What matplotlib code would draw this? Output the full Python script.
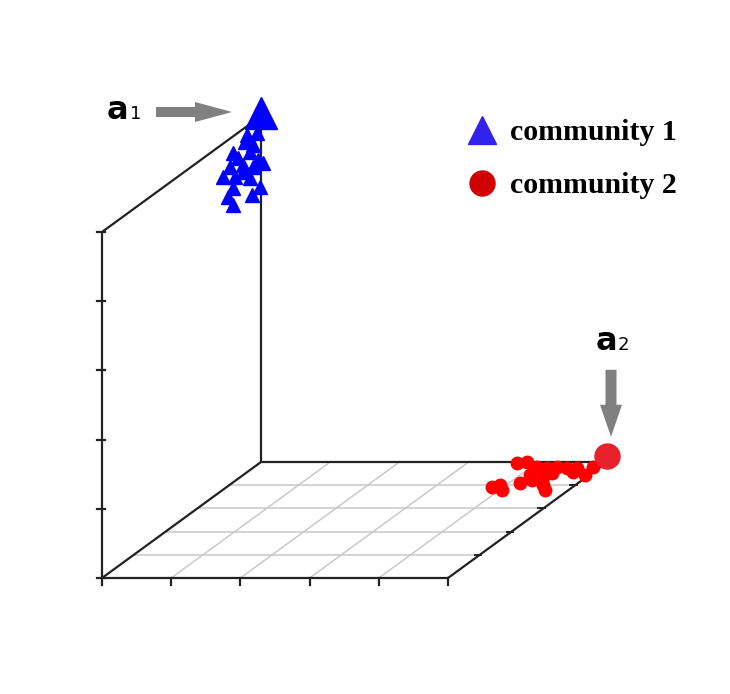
import matplotlib
matplotlib.use("Agg")
import matplotlib.pyplot as plt
from matplotlib.lines import Line2D
from matplotlib.patches import FancyArrow
import numpy as np

# ---------------- data ----------------
# community 1 (blue triangles): x, depth (y), height (z)
comm1_x = [0.00, 0.00, 0.00, 0.00, 0.00, 0.00, 0.00, 0.00, 0.00, 0.00, 0.00,
           0.00, 0.00, 0.00, 0.00, 0.00, 0.00, 0.00, 0.00, 0.00, 0.03]
comm1_y = [4.87, 4.56, 4.50, 4.75, 4.12, 4.65, 4.91, 4.28, 4.03, 4.43, 4.75,
           3.81, 4.18, 4.65, 4.97, 4.12, 4.72, 3.96, 4.12, 4.43, 5.00]
comm1_z = [4.80, 4.87, 4.79, 4.66, 4.76, 4.60, 4.40, 4.64, 4.59, 4.48, 4.35,
           4.52, 4.39, 4.22, 3.98, 4.25, 3.95, 4.18, 4.01, 4.38, 4.32]
# community 2 (red dots)
comm2_x = [3.72, 3.84, 4.09, 4.25, 4.38, 4.54, 4.69, 4.94, 4.90, 4.14,
           4.37, 4.16, 4.53, 4.66, 3.83, 3.91, 4.04, 4.27, 4.42, 4.71]
comm2_y = [4.96, 5.00, 4.78, 4.74, 4.78, 4.74, 4.74, 4.44, 4.78, 4.44,
           4.35, 4.09, 4.01, 3.79, 3.92, 4.01, 3.79, 4.22, 4.53, 4.57]
comm2_z = [0.00] * 20
# anchor points
a1_xyz = (0.0, 5.0, 5.0)
a2_xyz = (5.0, 5.0, 0.09)
x_ticks = [0, 1, 2, 3, 4, 5]
y_ticks = [0, 1, 2, 3, 4, 5]
z_ticks = [0, 1, 2, 3, 4, 5]
legend_labels = ["community 1", "community 2"]
anchor_labels = ["a", "1", "a", "2"]

# ---------------- oblique projection ----------------
DX = 31.8 / 69.2
DZ = 23.2 / 69.2


def proj(x, y, z):
    x = np.asarray(x, float); y = np.asarray(y, float); z = np.asarray(z, float)
    return x + DX * y, z + DZ * y


W, H = 730, 694
fig = plt.figure(figsize=(W / 100, H / 100), dpi=100)
ax = fig.add_axes([0, 0, 1, 1])
U = 69.2  # pixels per unit
ax.set_xlim(-102 / U, (W - 102) / U)
ax.set_ylim((578 - H) / U, 578 / U)
ax.axis("off")

X0, X1 = x_ticks[0], x_ticks[-1]
Y0, Y1 = y_ticks[0], y_ticks[-1]
Z0, Z1 = z_ticks[0], z_ticks[-1]


def seg(p, q, **kw):
    a = proj(*p); b = proj(*q)
    ax.plot([a[0], b[0]], [a[1], b[1]], solid_capstyle="butt", **kw)


grid_kw = dict(color="#c9c9c9", lw=1.1, zorder=1)
for yv in y_ticks[1:-1]:
    seg((X0, yv, Z0), (X1, yv, Z0), **grid_kw)
for xv in x_ticks[1:-1]:
    seg((xv, Y0, Z0), (xv, Y1, Z0), **grid_kw)

edge_kw = dict(color="#222222", lw=1.6, zorder=2)
seg((X0, Y0, Z0), (X1, Y0, Z0), **edge_kw)
seg((X0, Y0, Z0), (X0, Y0, Z1), **edge_kw)
seg((X0, Y0, Z0), (X0, Y1, Z0), **edge_kw)
seg((X0, Y0, Z1), (X0, Y1, Z1), **edge_kw)
seg((X0, Y1, Z0), (X0, Y1, Z1), **edge_kw)
seg((X0, Y1, Z0), (X1, Y1, Z0), **edge_kw)
seg((X1, Y0, Z0), (X1, Y1, Z0), **edge_kw)

# ticks
t = 5 / U
for xv in x_ticks:
    px, pz = proj(xv, Y0, Z0)
    ax.plot([px, px], [pz, pz - t * 1.3], color="#222222", lw=1.6, zorder=2)
for zv in z_ticks:
    px, pz = proj(X0, Y0, zv)
    ax.plot([px - t, px + t * 0.6], [pz, pz], color="#222222", lw=1.6, zorder=2)
for yv in y_ticks[1:]:
    px, pz = proj(X1, yv, Z0)
    ax.plot([px - t, px + t * 0.3], [pz, pz], color="#222222", lw=1.4, zorder=2)

# scatter points
bx, bz = proj(comm1_x, comm1_y, comm1_z)
ax.plot(bx, bz, "^", ms=10, color="#0000ff", mec="#0000ff", ls="none", zorder=4)
rx, rz = proj(comm2_x, comm2_y, comm2_z)
ax.plot(rx, rz, "o", ms=9, color="#ff0000", mec="#ff0000", ls="none", zorder=4)

a1x, a1z = proj(*a1_xyz)
ax.plot([a1x], [a1z + 3 / U], "^", ms=23, color="#0000ff", mec="#0000ff", zorder=5)
a2x, a2z = proj(*a2_xyz)
ax.plot([a2x], [a2z], "o", ms=18, color="#e8202a", mec="#e8202a", zorder=5)

# arrows (pixel offsets relative to the anchor points)
arrow_col = "#808080"
ax.add_patch(FancyArrow(a1x - 105 / U, a1z + 4 / U, 76 / U, 0, width=10 / U,
                        head_width=20 / U, head_length=37 / U,
                        length_includes_head=True, color=arrow_col, lw=0, zorder=5))
ax.add_patch(FancyArrow(a2x + 4 / U, a2z + 86 / U, 0, -67 / U, width=11 / U,
                        head_width=22 / U, head_length=32 / U,
                        length_includes_head=True, color=arrow_col, lw=0, zorder=5))

# anchor labels
ax.text(a1x - 154 / U, a1z - 3 / U, anchor_labels[0], fontsize=23, fontweight="bold",
        family="DejaVu Sans", ha="left", va="baseline", color="black")
ax.text(a1x - 131 / U, a1z - 3 / U, anchor_labels[1], fontsize=13,
        family="DejaVu Sans", ha="left", va="baseline", color="black")
ax.text(a2x - 11 / U, a2z + 106 / U, anchor_labels[2], fontsize=23, fontweight="bold",
        family="DejaVu Sans", ha="left", va="baseline", color="black")
ax.text(a2x + 11 / U, a2z + 106 / U, anchor_labels[3], fontsize=13,
        family="DejaVu Sans", ha="left", va="baseline", color="black")

# legend
handles = [
    Line2D([], [], ls="none", marker="^", ms=19.5, color="#3322ee", mec="#3322ee"),
    Line2D([], [], ls="none", marker="o", ms=18, color="#d00000", mec="#d00000"),
]
leg = ax.legend(handles, legend_labels, loc="upper left",
                bbox_to_anchor=(466 / W, 1 - 119 / H), bbox_transform=fig.transFigure,
                frameon=False, borderpad=0, borderaxespad=0, handlelength=1.1,
                handletextpad=0.37, labelspacing=0.88,
                prop={"family": "Liberation Serif", "weight": "bold", "size": 21.5})

fig.savefig("out.png", dpi=100)
